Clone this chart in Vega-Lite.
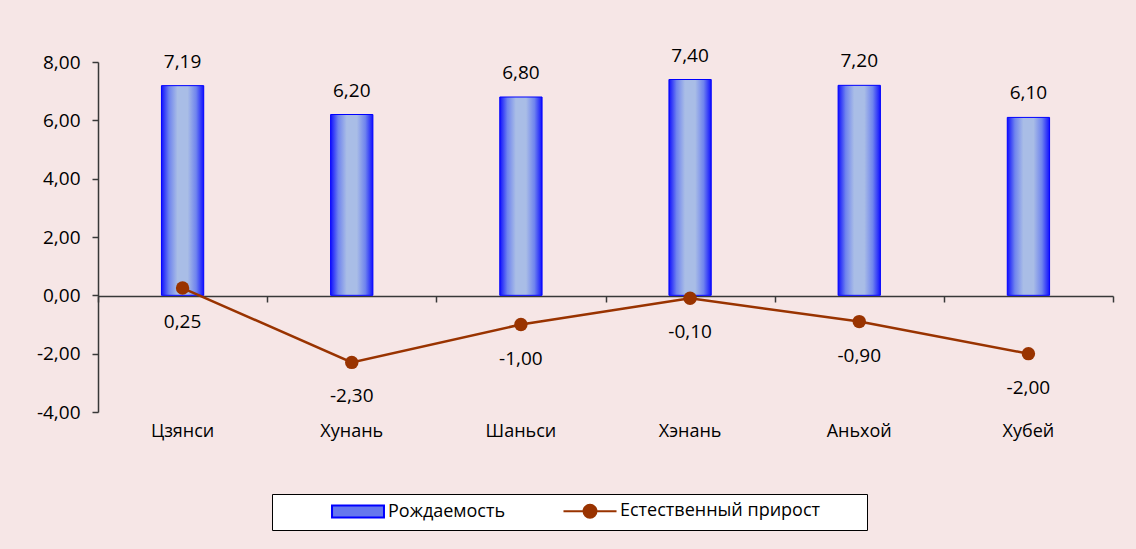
{
  "$schema": "https://vega.github.io/schema/vega-lite/v6.json",
  "width": 1015,
  "height": 350,
  "autosize": {"type": "none"},
  "padding": {"left": 98, "top": 62, "right": 23, "bottom": 137},
  "background": "#F6E6E6",
  "config": {
    "locale": {"number": {"decimal": ",", "thousands": " ", "grouping": [3], "currency": ["", ""], "minus": "-"}},
    "font": "Open Sans",
    "view": {"stroke": null},
    "axis": {"labelFont": "Open Sans", "labelFontSize": 19, "labelColor": "#000", "domainColor": "#383838", "tickColor": "#383838", "grid": false, "title": null, "domainWidth": 1.5, "tickWidth": 1.5}
  },
  "data": {"values": [
    {"region": "Цзянси", "birth": 7.19, "growth": 0.25},
    {"region": "Хунань", "birth": 6.20, "growth": -2.30},
    {"region": "Шаньси", "birth": 6.80, "growth": -1.00},
    {"region": "Хэнань", "birth": 7.40, "growth": -0.10},
    {"region": "Аньхой", "birth": 7.20, "growth": -0.90},
    {"region": "Хубей", "birth": 6.10, "growth": -2.00}
  ]},
  "layer": [
    {
      "mark": {"type": "bar", "width": {"band": 0.25}, "stroke": "#0000ff", "strokeWidth": 1,
        "fill": {"gradient": "linear", "x1": 0, "y1": 0, "x2": 1, "y2": 0, "stops": [
          {"offset": 0, "color": "#1010ff"},
          {"offset": 0.18, "color": "#6f84ee"},
          {"offset": 0.38, "color": "#a9bde6"},
          {"offset": 0.62, "color": "#a9bde6"},
          {"offset": 0.82, "color": "#6f84ee"},
          {"offset": 1, "color": "#1010ff"}
        ]}},
      "encoding": {
        "x": {"field": "region", "type": "nominal", "sort": null, "scale": {"paddingInner": 0, "paddingOuter": 0},
          "axis": {"orient": "bottom", "offset": -116, "labels": false, "tickBand": "extent", "ticks": true, "tickSize": 6, "domain": true}},
        "y": {"field": "birth", "type": "quantitative", "scale": {"domain": [-4, 8], "nice": false, "zero": false},
          "axis": {"orient": "left", "values": [-4, -2, 0, 2, 4, 6, 8], "format": ".2f", "tickSize": 6, "labelPadding": 12}}
      }
    },
    {
      "mark": {"type": "text", "baseline": "alphabetic", "dy": -18, "fontSize": 19, "color": "#000"},
      "encoding": {
        "x": {"field": "region", "type": "nominal", "sort": null,
          "axis": {"orient": "bottom", "domain": false, "ticks": false, "labelPadding": 10, "labelAngle": 0, "labelFontSize": 18}},
        "y": {"field": "birth", "type": "quantitative",
          "axis": {"orient": "left", "values": [-4, -2, 0, 2, 4, 6, 8], "format": ".2f", "tickSize": 6, "labelPadding": 12}},
        "text": {"field": "birth", "type": "quantitative", "format": ".2f"}
      }
    },
    {
      "mark": {"type": "line", "color": "#993300", "strokeWidth": 2.5},
      "encoding": {
        "x": {"field": "region", "type": "nominal", "sort": null, "axis": null},
        "y": {"field": "growth", "type": "quantitative",
          "axis": {"orient": "left", "values": [-4, -2, 0, 2, 4, 6, 8], "format": ".2f", "tickSize": 6, "labelPadding": 12}}
      }
    },
    {
      "mark": {"type": "point", "filled": true, "opacity": 1, "color": "#993300", "size": 180, "shape": "circle"},
      "encoding": {
        "x": {"field": "region", "type": "nominal", "sort": null, "axis": null},
        "y": {"field": "growth", "type": "quantitative",
          "axis": {"orient": "left", "values": [-4, -2, 0, 2, 4, 6, 8], "format": ".2f", "tickSize": 6, "labelPadding": 12}}
      }
    },
    {
      "mark": {"type": "text", "baseline": "middle", "dy": 34, "fontSize": 19, "color": "#000"},
      "encoding": {
        "x": {"field": "region", "type": "nominal", "sort": null, "axis": null},
        "y": {"field": "growth", "type": "quantitative",
          "axis": {"orient": "left", "values": [-4, -2, 0, 2, 4, 6, 8], "format": ".2f", "tickSize": 6, "labelPadding": 12}},
        "text": {"field": "growth", "type": "quantitative", "format": ".2f"}
      }
    },
    {
      "data": {"values": []},
      "mark": {"type": "point", "filled": true},
      "encoding": {
        "fill": {"field": "s", "type": "nominal",
          "scale": {"domain": ["Рождаемость", "Естественный прирост"], "range": ["#6677ee", "#993300"]},
          "legend": {"title": " ", "titleOrient": "right", "titleFontSize": 2, "titlePadding": 39, "orient": "none", "legendX": 174, "legendY": 432, "direction": "horizontal", "fillColor": "#ffffff", "strokeColor": "#000000", "padding": 8, "symbolSize": 144, "symbolStrokeWidth": 2, "symbolOffset": 69, "labelFont": "Open Sans", "labelFontSize": 18, "labelColor": "#000", "columnPadding": 6, "labelOffset": 21, "labelLimit": 400, "symbolOpacity": 1}},
        "stroke": {"field": "s", "type": "nominal",
          "scale": {"domain": ["Рождаемость", "Естественный прирост"], "range": ["#0000ff", "#993300"]},
          "legend": {"title": " ", "titleOrient": "right", "titleFontSize": 2, "titlePadding": 39, "orient": "none", "legendX": 174, "legendY": 432, "direction": "horizontal", "fillColor": "#ffffff", "strokeColor": "#000000", "padding": 8, "symbolSize": 144, "symbolStrokeWidth": 2, "symbolOffset": 69, "labelFont": "Open Sans", "labelFontSize": 18, "labelColor": "#000", "columnPadding": 6, "labelOffset": 21, "labelLimit": 400, "symbolOpacity": 1}},
        "shape": {"field": "s", "type": "nominal",
          "scale": {"domain": ["Рождаемость", "Естественный прирост"], "range": ["M-4.33,-1H4.33V1H-4.33Z", "M-4.42,0H4.42M-1.08,0A1.08,1.08 0 1,0 1.08,0A1.08,1.08 0 1,0 -1.08,0Z"]},
          "legend": {"title": " ", "titleOrient": "right", "titleFontSize": 2, "titlePadding": 39, "orient": "none", "legendX": 174, "legendY": 432, "direction": "horizontal", "fillColor": "#ffffff", "strokeColor": "#000000", "padding": 8, "symbolSize": 144, "symbolStrokeWidth": 2, "symbolOffset": 69, "labelFont": "Open Sans", "labelFontSize": 18, "labelColor": "#000", "columnPadding": 6, "labelOffset": 21, "labelLimit": 400, "symbolOpacity": 1}}
      }
    }
  ],
  "resolve": {"axis": {"x": "independent"}}
}
